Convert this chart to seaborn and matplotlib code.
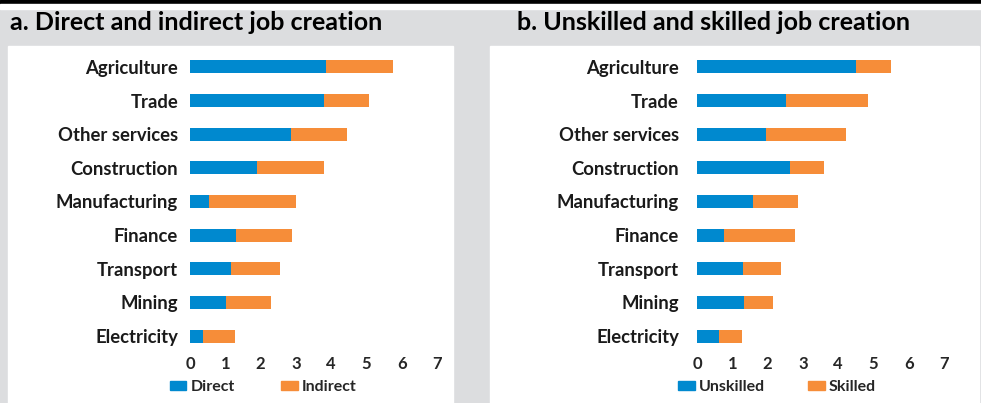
import matplotlib
matplotlib.use("Agg")
import matplotlib.pyplot as plt
from matplotlib.patches import Rectangle, Patch
import seaborn as sns
import pandas as pd

# sectors, top to bottom
sectors = ["Agriculture", "Trade", "Other services", "Construction", "Manufacturing",
           "Finance", "Transport", "Mining", "Electricity"]

# panel a: direct vs indirect jobs
direct = [3.85, 3.80, 2.86, 1.90, 0.54, 1.30, 1.16, 1.02, 0.37]
indirect = [1.90, 1.27, 1.59, 1.90, 2.46, 1.59, 1.39, 1.27, 0.90]

# panel b: unskilled vs skilled jobs
unskilled = [4.50, 2.52, 1.95, 2.63, 1.59, 0.76, 1.30, 1.33, 0.62]
skilled = [1.00, 2.32, 2.27, 0.97, 1.27, 2.02, 1.08, 0.82, 0.65]

xticks = [0, 1, 2, 3, 4, 5, 6, 7]

BLUE = "#0089CF"
ORANGE = "#F68D39"
GREY = "#DCDDDF"

sns.set_style("white")
plt.rcParams["font.family"] = ["Lato", "DejaVu Sans"]

W, H = 981, 403
fig = plt.figure(figsize=(W / 100, H / 100), dpi=100, facecolor=GREY)


def px_rect(x0, y0, x1, y1, color):
    fig.patches.append(Rectangle((x0 / W, 1 - y1 / H), (x1 - x0) / W, (y1 - y0) / H,
                                 transform=fig.transFigure, color=color, zorder=-5))


# top black rule and white strip
px_rect(0, 0, W, 4, "black")
px_rect(0, 4, W, 9, "white")
# white panel backgrounds
px_rect(8, 46, 453, H, "white")
px_rect(490, 46, 979, H, "white")


def panel(x0, title, title_x, first, second, labels, leg_x, colsp, ypad):
    ax = fig.add_axes([x0 / W, 1 - 353 / H, 247 / W, (353 - 50) / H])
    ax.set_zorder(2)
    ax.patch.set_alpha(0)
    df = pd.DataFrame({"sector": sectors, "first": first,
                       "total": [a + b for a, b in zip(first, second)]})
    sns.barplot(data=df, x="total", y="sector", color=ORANGE, width=0.39,
                saturation=1, linewidth=0, ax=ax, orient="h")
    sns.barplot(data=df, x="first", y="sector", color=BLUE, width=0.39,
                saturation=1, linewidth=0, ax=ax, orient="h")
    ax.set_xlim(0, 7)
    ax.set_ylim(8.5, -0.5)
    ax.set_xticks(xticks)
    ax.set_xticklabels([str(t) for t in xticks], fontweight="bold", fontsize=12)
    ax.tick_params(axis="x", length=0, pad=2)
    ax.tick_params(axis="y", length=0, pad=ypad)
    for t in ax.get_yticklabels():
        t.set_fontsize(13.3)
        t.set_fontweight("bold")
        t.set_color("#1a1a1a")
    ax.set_xlabel("")
    ax.set_ylabel("")
    sns.despine(ax=ax, left=True, bottom=True)

    fig.text(title_x / W, 1 - 23 / H, title, fontsize=18, fontweight="bold",
             va="center", ha="left", color="black")

    handles = [Patch(color=BLUE, label=labels[0]), Patch(color=ORANGE, label=labels[1])]
    fig.legend(handles=handles, loc="center", bbox_to_anchor=(leg_x / W, 1 - 387 / H),
               ncol=2, frameon=False, handlelength=1.05, handleheight=0.55,
               handletextpad=0.25, columnspacing=colsp,
               prop={"weight": "bold", "size": 11.5})
    return ax


panel(190, "a. Direct and indirect job creation", 10, direct, indirect,
      ["Direct", "Indirect"], 263, 2.9, 8.5)
panel(697, "b. Unskilled and skilled job creation", 517, unskilled, skilled,
      ["Unskilled", "Skilled"], 777, 2.7, 13)

fig.savefig("out.png", dpi=100, facecolor=GREY)
